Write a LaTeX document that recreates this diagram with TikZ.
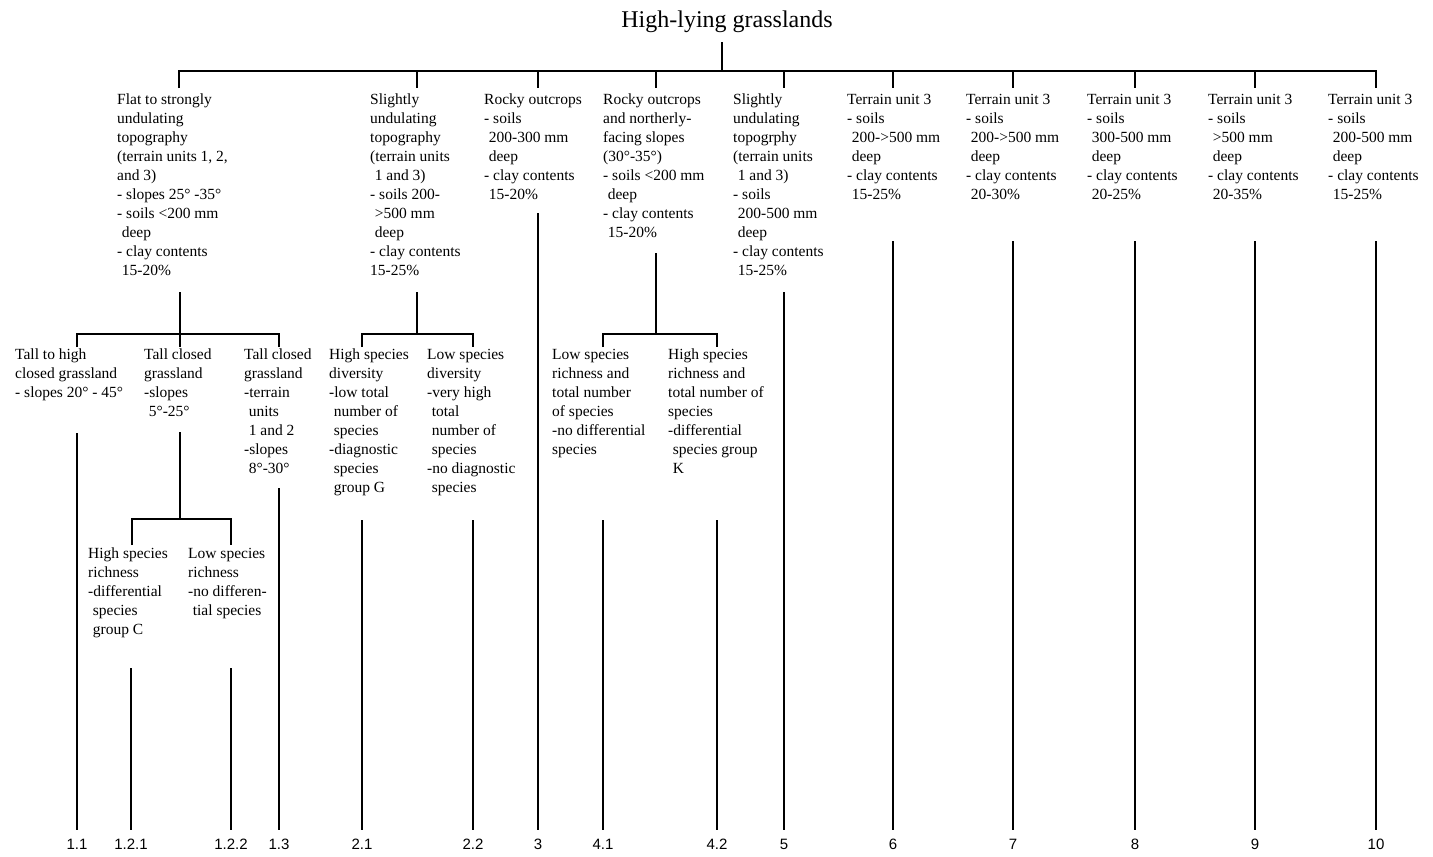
\documentclass[tikz,border=0pt]{standalone}
\usepackage{fontspec}
\setmainfont{Liberation Serif}
\newfontfamily\leaffont{Liberation Sans}
\newcommand{\ind}{\hspace*{0.3em}}
\begin{document}
\begin{tikzpicture}[x=1pt,y=-1pt,
  unit node/.style={anchor=north west,align=left,inner sep=0pt,font=\fontsize{15.5}{19}\selectfont},
  leaf node/.style={anchor=north,inner xsep=0pt,inner ysep=9pt,font=\leaffont\fontsize{15}{18}\selectfont},
  branch/.style={line width=2.2pt}]
  	\useasboundingbox (0,0) rectangle (1433,857);

  	\node[anchor=base,inner sep=0pt,font=\fontsize{24}{28}\selectfont] at (727,27) (root) {High-lying grasslands};

  	% first division
  	\node[unit node] at (117,94) (u1) {Flat to strongly\\undulating\\topography\\(terrain units 1, 2,\\and 3)\\- slopes 25° -35°\\- soils <200 mm\\\ind deep\\- clay contents\\\ind 15-20\%};
  	\node[unit node] at (370,94) (u2) {Slightly\\undulating\\topography\\(terrain units\\\ind 1 and 3)\\- soils 200-\\\ind >500 mm\\\ind deep\\- clay contents\\15-25\%};
  	\node[unit node] at (484,94) (u3) {Rocky outcrops\\- soils\\\ind 200-300 mm\\\ind deep\\- clay contents\\\ind 15-20\%};
  	\node[unit node] at (603,94) (u4) {Rocky outcrops\\and northerly-\\facing slopes\\(30°-35°)\\- soils <200 mm\\\ind deep\\- clay contents\\\ind 15-20\%};
  	\node[unit node] at (733,94) (u5) {Slightly\\undulating\\topogrphy\\(terrain units\\\ind 1 and 3)\\- soils\\\ind 200-500 mm\\\ind deep\\- clay contents\\\ind 15-25\%};
  	\node[unit node] at (847,94) (u6) {Terrain unit 3\\- soils\\\ind 200->500 mm\\\ind deep\\- clay contents\\\ind 15-25\%};
  	\node[unit node] at (966,94) (u7) {Terrain unit 3\\- soils\\\ind 200->500 mm\\\ind deep\\- clay contents\\\ind 20-30\%};
  	\node[unit node] at (1087,94) (u8) {Terrain unit 3\\- soils\\\ind 300-500 mm\\\ind deep\\- clay contents\\\ind 20-25\%};
  	\node[unit node] at (1208,94) (u9) {Terrain unit 3\\- soils\\\ind >500 mm\\\ind deep\\- clay contents\\\ind 20-35\%};
  	\node[unit node] at (1328,94) (u10) {Terrain unit 3\\- soils\\\ind 200-500 mm\\\ind deep\\- clay contents\\\ind 15-25\%};

  	% second division
  	\node[unit node] at (15,349) (s11) {Tall to high\\closed grassland\\- slopes 20° - 45°};
  	\node[unit node] at (144,349) (s12) {Tall closed\\grassland\\-slopes\\\ind 5°-25°};
  	\node[unit node] at (244,349) (s13) {Tall closed\\grassland\\-terrain\\\ind units\\\ind 1 and 2\\-slopes\\\ind 8°-30°};
  	\node[unit node] at (329,349) (s21) {High species\\diversity\\-low total\\\ind number of\\\ind species\\-diagnostic\\\ind species\\\ind group G};
  	\node[unit node] at (427,349) (s22) {Low species\\diversity\\-very high\\\ind total\\\ind number of\\\ind species\\-no diagnostic\\\ind species};
  	\node[unit node] at (552,349) (s41) {Low species\\richness and\\total number\\of species\\-no differential\\species};
  	\node[unit node] at (668,349) (s42) {High species\\richness and\\total number of\\species\\-differential\\\ind species group\\\ind K};

  	% third division
  	\node[unit node] at (88,548) (s121) {High species\\richness\\-differential\\\ind species\\\ind group C};
  	\node[unit node] at (188,548) (s122) {Low species\\richness\\-no differen-\\\ind tial species};

  	% community numbers
  	\node[leaf node] at (77,830) (l11) {1.1};
  	\node[leaf node] at (131,830) (l121) {1.2.1};
  	\node[leaf node] at (231,830) (l122) {1.2.2};
  	\node[leaf node] at (279,830) (l13) {1.3};
  	\node[leaf node] at (362,830) (l21) {2.1};
  	\node[leaf node] at (473,830) (l22) {2.2};
  	\node[leaf node] at (538,830) (l3) {3};
  	\node[leaf node] at (603,830) (l41) {4.1};
  	\node[leaf node] at (717,830) (l42) {4.2};
  	\node[leaf node] at (784,830) (l5) {5};
  	\node[leaf node] at (893,830) (l6) {6};
  	\node[leaf node] at (1013,830) (l7) {7};
  	\node[leaf node] at (1135,830) (l8) {8};
  	\node[leaf node] at (1255,830) (l9) {9};
  	\node[leaf node] at (1376,830) (l10) {10};

  	% joints
  	\coordinate (r0) at (722,42);
  	\coordinate (r1) at (722,71);
  	\coordinate (t1) at (179,71);   \coordinate (d1) at (179,88);
  	\coordinate (t2) at (417,71);   \coordinate (d2) at (417,88);
  	\coordinate (t3) at (538,71);   \coordinate (d3) at (538,88);
  	\coordinate (t4) at (656,71);   \coordinate (d4) at (656,88);
  	\coordinate (t5) at (784,71);   \coordinate (d5) at (784,88);
  	\coordinate (t6) at (893,71);   \coordinate (d6) at (893,88);
  	\coordinate (t7) at (1013,71);  \coordinate (d7) at (1013,88);
  	\coordinate (t8) at (1135,71);  \coordinate (d8) at (1135,88);
  	\coordinate (t9) at (1255,71);  \coordinate (d9) at (1255,88);
  	\coordinate (t10) at (1376,71); \coordinate (d10) at (1376,88);

  	\coordinate (u1-out) at (180,292); \coordinate (u1-j) at (180,334);
  	\coordinate (u2-out) at (417,292); \coordinate (u2-j) at (417,334);
  	\coordinate (u4-out) at (656,253); \coordinate (u4-j) at (656,334);
  	\coordinate (s12-out) at (180,432); \coordinate (s12-j) at (180,519);

  	\coordinate (j11) at (77,334);   \coordinate (i11) at (77,347);
  	\coordinate (i12) at (180,347);
  	\coordinate (j13) at (279,334);  \coordinate (i13) at (279,347);
  	\coordinate (j21) at (362,334);  \coordinate (i21) at (362,347);
  	\coordinate (j22) at (473,334);  \coordinate (i22) at (473,347);
  	\coordinate (j41) at (603,334);  \coordinate (i41) at (603,347);
  	\coordinate (j42) at (717,334);  \coordinate (i42) at (717,347);
  	\coordinate (j121) at (132,519); \coordinate (i121) at (132,545);
  	\coordinate (j122) at (231,519); \coordinate (i122) at (231,545);

  	\coordinate (a11) at (77,433);
  	\coordinate (a121) at (131,668);
  	\coordinate (a122) at (231,668);
  	\coordinate (a13) at (279,488);
  	\coordinate (a21) at (362,520);
  	\coordinate (a22) at (473,520);
  	\coordinate (a3) at (538,213);
  	\coordinate (a41) at (603,520);
  	\coordinate (a42) at (717,520);
  	\coordinate (a5) at (784,292);
  	\coordinate (a6) at (893,241);
  	\coordinate (a7) at (1013,241);
  	\coordinate (a8) at (1135,241);
  	\coordinate (a9) at (1255,241);
  	\coordinate (a10) at (1376,241);

  	% brackets
  	\draw[branch] (d1) -- (t1) -- (t10) -- (d10);
  	\draw[branch] (i11) -- (j11) -- (j13) -- (i13);
  	\draw[branch] (i21) -- (j21) -- (j22) -- (i22);
  	\draw[branch] (i41) -- (j41) -- (j42) -- (i42);
  	\draw[branch] (i121) -- (j121) -- (j122) -- (i122);

  	\path[branch]
  	(r0) edge (r1)
  	(t2) edge (d2)
  	(t3) edge (d3)
  	(t4) edge (d4)
  	(t5) edge (d5)
  	(t6) edge (d6)
  	(t7) edge (d7)
  	(t8) edge (d8)
  	(t9) edge (d9)

  	(u1-out) edge (i12)
  	(u2-out) edge (u2-j)
  	(u4-out) edge (u4-j)
  	(s12-out) edge (s12-j)

  	(a11) edge (l11.north)
  	(a121) edge (l121.north)
  	(a122) edge (l122.north)
  	(a13) edge (l13.north)
  	(a21) edge (l21.north)
  	(a22) edge (l22.north)
  	(a3) edge (l3.north)
  	(a41) edge (l41.north)
  	(a42) edge (l42.north)
  	(a5) edge (l5.north)
  	(a6) edge (l6.north)
  	(a7) edge (l7.north)
  	(a8) edge (l8.north)
  	(a9) edge (l9.north)
  	(a10) edge (l10.north);
\end{tikzpicture}
\end{document}
